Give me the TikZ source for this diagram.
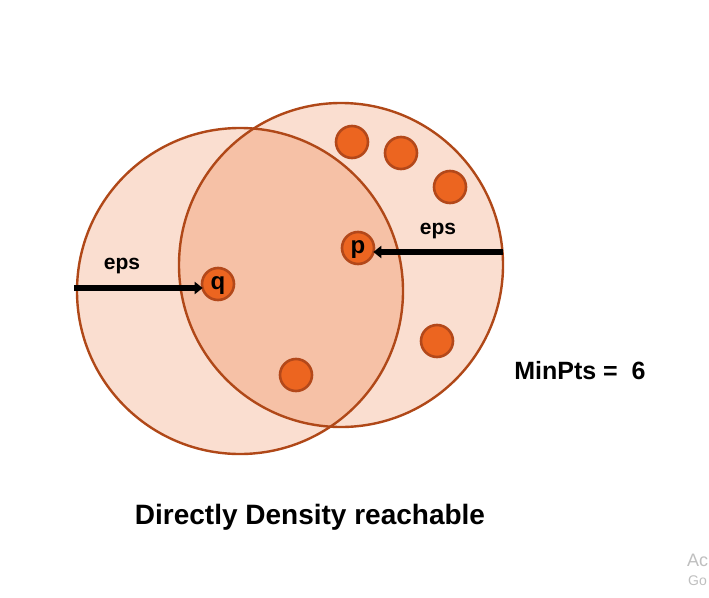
\documentclass[tikz,border=0pt]{standalone}
\usepackage{fontspec}
\setmainfont{Liberation Sans}
\usetikzlibrary{arrows.meta}
\definecolor{ringc}{HTML}{B04818}
\definecolor{lightf}{HTML}{FADED0}
\definecolor{darkf}{HTML}{F6C1A6}
\definecolor{dotf}{HTML}{EC6520}
\definecolor{dotb}{HTML}{B3481A}
\begin{document}
\begin{tikzpicture}[x=1pt,y=-1pt,
  ring/.style={draw=ringc,line width=2.4pt},
  pt/.style={circle,draw=dotb,line width=2.6pt,fill=dotf,minimum size=32pt,inner sep=0pt,text height=11pt,text depth=0pt,font=\bfseries\fontsize{24}{24}\selectfont},
  epsarrow/.style={line width=6pt,-{Triangle[length=8pt,width=12pt]}},
  lab/.style={font=\bfseries\fontsize{21}{21}\selectfont}]
\useasboundingbox (0,0) rectangle (709,597);
\fill[white] (0,0) rectangle (709,597);
% circles
\fill[lightf] (240,291) circle (163);
\fill[lightf] (341,265) circle (162);
\begin{scope}
  \clip (240,291) circle (163);
  \fill[darkf] (341,265) circle (162);
\end{scope}
\draw[ring] (240,291) circle (163);
\draw[ring] (341,265) circle (162);
% points
\node[pt] (d1) at (352,142) {};
\node[pt] (d2) at (401,153) {};
\node[pt] (d3) at (450,187) {};
\node[pt] (p) at (358,248) {p};
\node[pt] (q) at (218,284) {q};
\node[pt] (d4) at (437,341) {};
\node[pt] (d5) at (296,375) {};
% arrows
\coordinate (la) at (74,288);
\coordinate (ra) at (503,252);
\draw[epsarrow] (la) -- ([xshift=2pt]la -| q.west);
\draw[epsarrow] (ra) -- ([xshift=-2pt]ra -| p.east);
\node[lab] (e1) at (122,266) {eps};
\node[lab] (e2) at (438,231) {eps};
\node[font=\bfseries\fontsize{25}{25}\selectfont] (mp) at (580,371) {MinPts =\ \ 6};
\node[font=\bfseries\fontsize{28}{28}\selectfont] (title) at (310,517) {Directly Density reachable};
\node[anchor=west,text=black!25,font=\fontsize{18}{18}\selectfont,inner sep=0pt] (w1) at (687,560) {Ac};
\node[anchor=west,text=black!25,font=\fontsize{14}{14}\selectfont,inner sep=0pt] (w2) at (688,581) {Go};
\end{tikzpicture}
\end{document}
